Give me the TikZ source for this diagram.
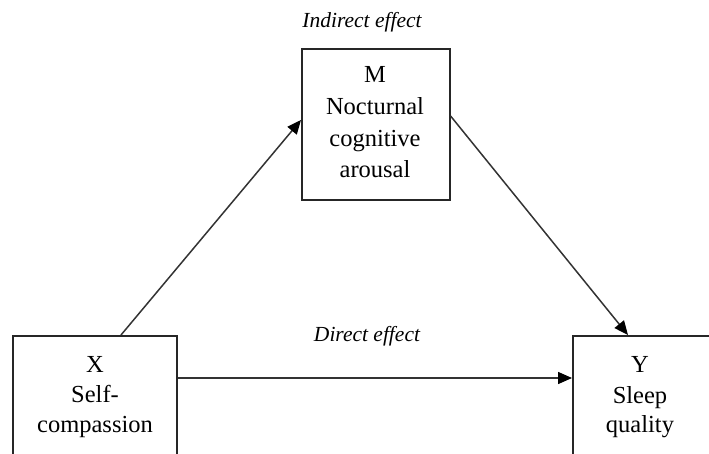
\documentclass[tikz,border=0pt]{standalone}
\usepackage{fontspec}
\setmainfont{Liberation Serif}
\usetikzlibrary{arrows.meta,calc}
\begin{document}
\begin{tikzpicture}[x=1pt,y=-1pt,
  varbox/.style={draw=black!85,line width=1.6pt,rectangle,inner sep=0pt,anchor=north west},
  lbl/.style={inner sep=0pt,anchor=base,font=\fontsize{24.5}{31}\selectfont},
  eff/.style={inner sep=0pt,anchor=base,font=\fontsize{21.5}{26}\selectfont\itshape},
  conn/.style={draw=black!80,line width=1.5pt,-{Triangle[length=14pt,width=12pt,black]}}]
\useasboundingbox (0,0) rectangle (709,454);
\clip (0,0) rectangle (709,454);
\node[varbox,minimum width=148pt,minimum height=151pt] (mbox) at (301,48) {};
\node[varbox,minimum width=164pt,minimum height=150pt] (xbox) at (12,335) {};
\node[varbox,minimum width=220pt,minimum height=150pt] (ybox) at (572,335) {};
% M text
\node[lbl] (m1) at (375,83) {M};
\node[lbl] (m2) at (375,115) {Nocturnal};
\node[lbl] (m3) at (375,147) {cognitive};
\node[lbl] (m4) at (375,178) {arousal};
% X text
\node[lbl] (x1) at (95,372) {X};
\node[lbl] (x2) at (95,402) {Self-};
\node[lbl] (x3) at (95,432) {compassion};
% Y text
\node[lbl] (y1) at (640,372) {Y};
\node[lbl] (y2) at (640,403) {Sleep};
\node[lbl] (y3) at (640,432) {quality};
% effect labels
\node[eff] (ind) at (362,28) {Indirect effect};
\node[eff] (dir) at (367,341) {Direct effect};
% connectors
\coordinate (xa) at ([xshift=109pt]xbox.north west);
\coordinate (ma) at ([yshift=-72pt]mbox.north west);
\coordinate (mb) at ([yshift=-68pt]mbox.north east);
\coordinate (yb) at ([xshift=56pt]ybox.north west);
\coordinate (xc) at ([yshift=-43pt]xbox.north east);
\coordinate (yc) at ([yshift=-43pt]ybox.north west);
\draw[conn] (xa) -- (ma);
\draw[conn] (mb) -- (yb);
\draw[conn] (xc) -- (yc);
\end{tikzpicture}
\end{document}
